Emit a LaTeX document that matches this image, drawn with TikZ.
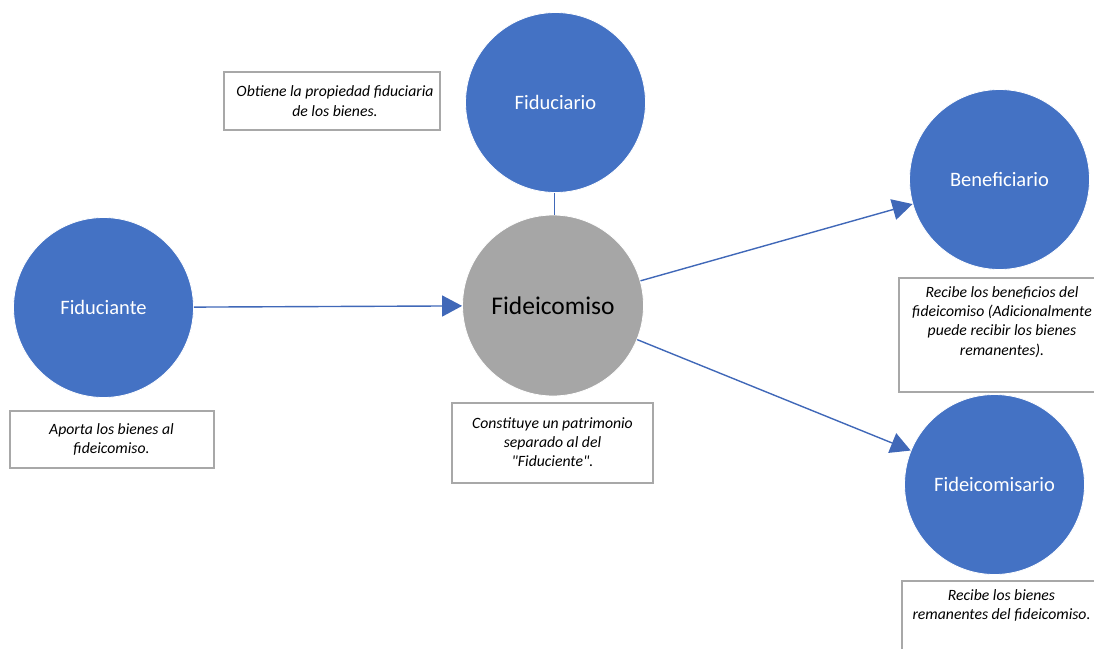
\documentclass[tikz,border=0pt]{standalone}
\usepackage{fontspec}
\setmainfont{Carlito}
\usetikzlibrary{arrows.meta}
\definecolor{nodeblue}{HTML}{4472C4}
\definecolor{nodegray}{HTML}{A6A6A6}
\definecolor{linkblue}{HTML}{4068B8}
\definecolor{boxgray}{HTML}{A8A8A8}
\begin{document}
\begin{tikzpicture}[x=1pt,y=-1pt,
  party/.style={circle, fill=nodeblue, draw=white, line width=0.8pt, minimum size=180pt, inner sep=0pt,
    text=white, font=\fontsize{20.5}{24}\selectfont},
  trust/.style={circle, fill=nodegray, draw=white, line width=0.8pt, minimum size=181pt, inner sep=0pt,
    text=black, font=\fontsize{25.5}{30}\selectfont},
  notebox/.style={draw=boxgray, line width=1.1pt, fill=white, inner sep=0pt},
  notetext/.style={align=center, inner sep=0pt, text=black,
    font=\fontsize{15.7}{19.3}\selectfont\itshape},
  link/.style={draw=linkblue, line width=1.4pt},
  arrowlink/.style={link, -{Triangle[length=20pt,width=21pt]}},
]
\useasboundingbox (0,0) rectangle (1094,648);

% the parties
\node[party] (fiduciante) at (103.5,307.5) {Fiduciante};
\node[party] (fiduciario) at (555.5,102.5) {Fiduciario};
\node[trust] (fideicomiso) at (553,305.5) {Fideicomiso};
\node[party] (beneficiario) at (999.5,179.5) {Beneficiario};
\node[party] (fideicomisario) at (994.5,484.5) {Fideicomisario};

% relations
\draw[link, line width=1.6pt] ([xshift=-1pt]fiduciario.south) -- ([xshift=-1pt]fiduciario.south |- fideicomiso.north);
\draw[arrowlink] (fiduciante) -- (fideicomiso);
\draw[arrowlink] (fideicomiso) -- (beneficiario);
\draw[arrowlink] (fideicomiso) -- (fideicomisario);

% notes
\node[notebox, minimum width=216pt, minimum height=58pt] (nfiduciario) at (332,101) {};
\node[notetext] (tfiduciario) at (335,101) {Obtiene la propiedad fiduciaria\\de los bienes.};

\node[notebox, minimum width=204pt, minimum height=57pt] (nfiduciante) at (112,439.5) {};
\node[notetext] (tfiduciante) at (111.5,439.5) {Aporta los bienes al\\fideicomiso.};

\node[notebox, minimum width=201pt, minimum height=80pt] (nfideicomiso) at (552.5,443) {};
\node[notetext] (tfideicomiso) at (552.5,442) {Constituye un patrimonio\\separado al del\\\textquotedbl Fiduciente\textquotedbl .};

\node[notebox, minimum width=201pt, minimum height=114pt] (nbeneficiario) at (999.5,335) {};
\node[notetext, anchor=north] (tbeneficiario) at (1002,286) {Recibe los beneficios del\\fideicomiso (Adicionalmente\\puede recibir los bienes\\remanentes).};

\node[notebox, minimum width=200pt, minimum height=80pt] (nfideicomisario) at (1002,621) {};
\node[notetext, anchor=north] (tfideicomisario) at (1001.5,589) {Recibe los bienes\\remanentes del fideicomiso.};
\end{tikzpicture}
\end{document}
